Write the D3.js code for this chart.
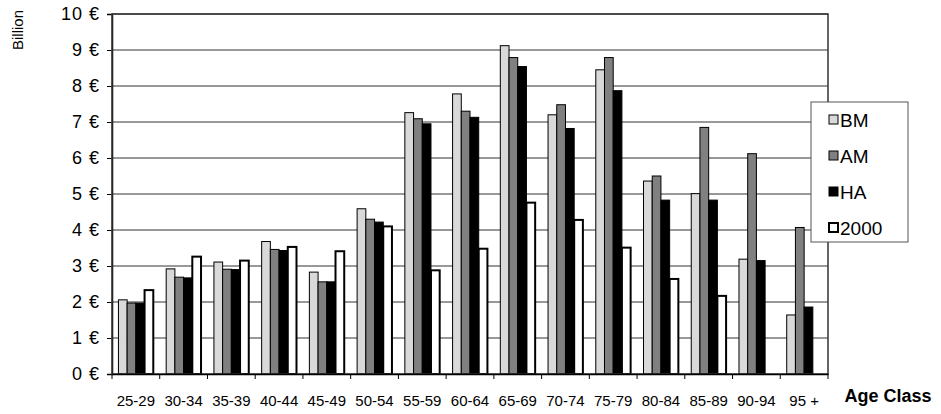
<!DOCTYPE html><html><head><meta charset="utf-8"><script src="https://cdn.jsdelivr.net/npm/d3@7"></script>
<style>body{margin:0;background:#fff}text{font-family:"Liberation Sans",Arial,sans-serif}</style></head><body>
<svg width="941" height="414"></svg>
<script>
const categories=["25-29","30-34","35-39","40-44","45-49","50-54","55-59","60-64","65-69","70-74","75-79","80-84","85-89","90-94","95 +"];
const seriesNames=["BM","AM","HA","2000"];
const BM=[2.06,2.92,3.11,3.68,2.83,4.59,7.26,7.78,9.12,7.2,8.45,5.36,5.01,3.19,1.64];
const AM=[1.97,2.69,2.91,3.46,2.56,4.3,7.09,7.3,8.79,7.48,8.79,5.5,6.85,6.12,4.07];
const HA=[1.97,2.67,2.9,3.43,2.56,4.22,6.95,7.13,8.54,6.82,7.87,4.83,4.83,3.15,1.86];
const Y2000=[2.33,3.26,3.15,3.53,3.41,4.1,2.88,3.48,4.76,4.28,3.51,2.64,2.17,0,0];
const yTicks=[0,1,2,3,4,5,6,7,8,9,10];
const colors=["#d9d9d9","#808080","#000000","#ffffff"];
const data=[BM,AM,HA,Y2000];
const svg=d3.select("svg");
const L=112,R=828,T=14,B=374;
const x=d3.scaleBand().domain(categories).range([L,R]).paddingInner(0.27).paddingOuter(0.135);
const xs=d3.scaleBand().domain(seriesNames).range([0,x.bandwidth()]);
const y=d3.scaleLinear().domain([0,10]).range([B,T]);
svg.append("g").selectAll("line").data(yTicks.slice(1)).join("line")
 .attr("x1",L).attr("x2",R).attr("y1",d=>y(d)).attr("y2",d=>y(d)).attr("stroke","#333").attr("stroke-width",1);
svg.append("g").attr("transform",`translate(${L},0)`).call(d3.axisLeft(y).tickValues(yTicks).tickSize(5).tickFormat(d=>d+" €"))
 .call(g=>{g.select(".domain").attr("stroke","#000").attr("stroke-width",1.5);g.selectAll("text").style("font-size","18px").style("letter-spacing","1px").attr("fill","#000").attr("dx",-4);});
seriesNames.forEach((s,i)=>{
 svg.append("g").selectAll("rect").data(categories.map((c,j)=>({c,v:data[i][j]})).filter(d=>d.v>0)).join("rect")
  .attr("x",d=>x(d.c)+xs(s)).attr("width",xs.bandwidth()).attr("y",d=>y(d.v)).attr("height",d=>B-y(d.v))
  .attr("fill",colors[i]).attr("stroke","#000").attr("stroke-width",i==3?2:1);
});
svg.append("rect").attr("x",L).attr("y",T).attr("width",R-L).attr("height",B-T).attr("fill","none").attr("stroke","#333").attr("stroke-width",1.5);
const xa=d3.axisBottom(x).tickSize(5).tickSizeOuter(0);
const gx=svg.append("g").attr("transform",`translate(0,${B})`).call(xa);
gx.select(".domain").attr("stroke","#000").attr("stroke-width",1.5);
gx.selectAll(".tick line").attr("transform",`translate(${-x.step()/2},0)`);
gx.append("line").attr("x1",R).attr("x2",R).attr("y1",0).attr("y2",5).attr("stroke","#000");
gx.selectAll("text").style("font-size","15px").attr("fill","#000").attr("dy",24);
svg.append("text").attr("transform","translate(23,30) rotate(-90)").attr("text-anchor","middle").style("font-size","15px").text("Billion");
svg.append("text").attr("x",888).attr("y",402).attr("text-anchor","middle").style("font-size","18px").attr("font-weight","bold").text("Age Class");
const lg=svg.append("g");
lg.append("rect").attr("x",811).attr("y",102).attr("width",97).attr("height",140).attr("fill","#fff").attr("stroke","#555");
seriesNames.forEach((s,i)=>{
 const yy=120+i*36;
 lg.append("rect").attr("x",829).attr("y",yy-5).attr("width",9).attr("height",9).attr("fill",colors[i]).attr("stroke","#000").attr("stroke-width",i==3?2:1);
 lg.append("text").attr("x",840).attr("y",yy+7).style("font-size","19px").text(s);
});
</script></body></html>
